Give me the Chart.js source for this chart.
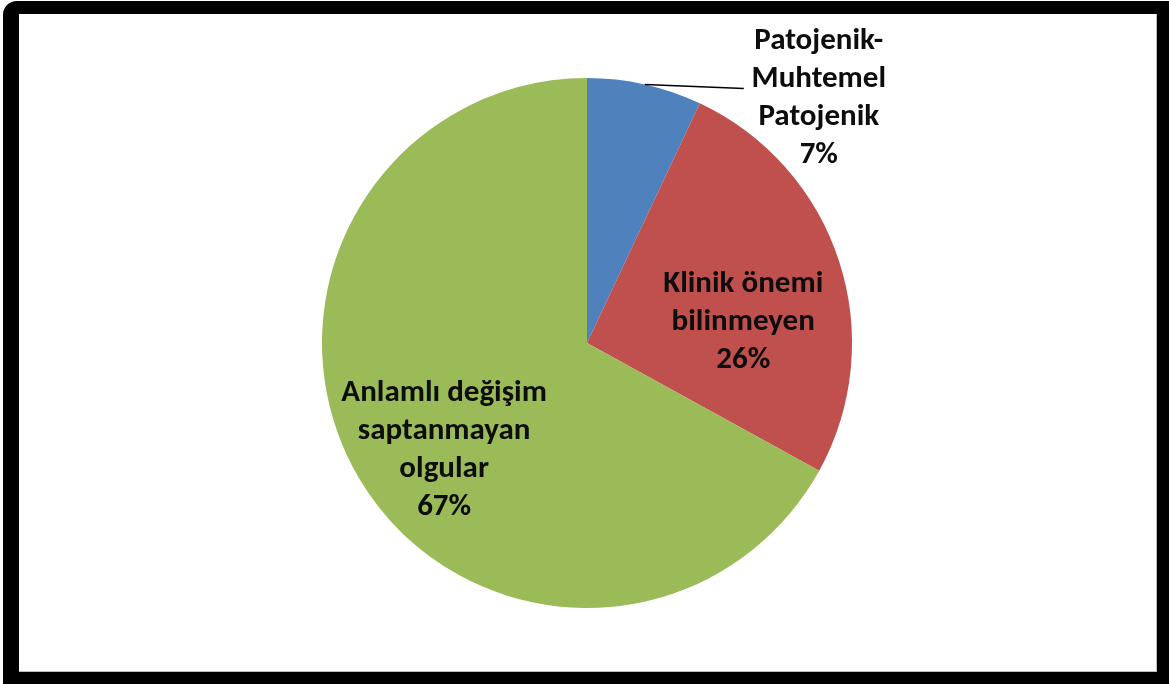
<!DOCTYPE html>
<html lang="tr">
<head>
<meta charset="UTF-8">
<title>Pie</title>
<script src="https://cdn.jsdelivr.net/npm/chart.js"></script>
<style>
    html, body { margin: 0; padding: 0; background: #fff; }
    .frame { position: absolute; left: 3px; top: 1px; width: 1166px; height: 683px; background: #000; border-radius: 14px 0 0 0; }
    .inner { position: absolute; left: 19px; top: 14px; width: 1137px; height: 657px; background: #fff; border-right: 1px solid #bbb; border-bottom: 1px solid #bbb; }
    #wrap { position: absolute; left: 0; top: 0; width: 1169px; height: 684px; }
</style>
</head>
<body>
<div class="frame"></div>
<div class="inner"></div>
<div id="wrap"><canvas id="pie"></canvas></div>
<script>
const categories = [['Patojenik-', 'Muhtemel', 'Patojenik'], ['Klinik önemi', 'bilinmeyen'], ['Anlamlı değişim', 'saptanmayan', 'olgular']];
const values = [7, 26, 67];
const colors = ['#4F81BD', '#C0504D', '#9BBB59'];

// where each label sits: radial fraction of radius, plus small nudges
const labelPlace = [
    { frac: 1.0, dx: 174, dy: 14, outside: true },
    { frac: 0.6, dx: 5, dy: 28 },
    { frac: 0.6, dx: -6, dy: 26 }
];

const pieLabels = {
    id: 'pieLabels',
    afterDatasetsDraw(chart) {
        const ctx = chart.ctx;
        const meta = chart.getDatasetMeta(0);
        const total = values.reduce((a, b) => a + b, 0);
        ctx.save();
        ctx.font = 'bold 31px Carlito, Lato, sans-serif';
        ctx.fillStyle = '#0d0d0d';
        ctx.textAlign = 'center';
        ctx.textBaseline = 'middle';
        const lh = 38;
        meta.data.forEach((arc, i) => {
            const p = arc.getProps(['x', 'y', 'startAngle', 'endAngle', 'outerRadius']);
            const mid = (p.startAngle + p.endAngle) / 2;
            const pl = labelPlace[i];
            const ax = p.x + Math.cos(mid) * p.outerRadius * pl.frac;
            const ay = p.y + Math.sin(mid) * p.outerRadius * pl.frac;
            const lines = categories[i].concat([Math.round(values[i] / total * 100) + '%']);
            const cx = ax + pl.dx;
            const cy = ay + pl.dy;
            if (pl.outside) {
                ctx.strokeStyle = '#000';
                ctx.lineWidth = 1.5;
                ctx.beginPath();
                ctx.moveTo(ax, ay);
                ctx.lineTo(cx - 75, cy - 10);
                ctx.stroke();
            }
            const top = cy - (lines.length - 1) * lh / 2;
            lines.forEach((t, k) => ctx.fillText(t, cx, top + k * lh));
        });
        ctx.restore();
    }
};

new Chart(document.getElementById('pie'), {
    type: 'pie',
    data: {
        labels: categories.map(c => c.join(' ')),
        datasets: [{
            data: values,
            backgroundColor: colors,
            borderWidth: 0
        }]
    },
    options: {
        responsive: true,
        maintainAspectRatio: false,
        animation: false,
        layout: { padding: { top: 78, bottom: 76, left: 322, right: 317 } },
        plugins: { legend: { display: false }, tooltip: { enabled: false } }
    },
    plugins: [pieLabels]
});
</script>
</body>
</html>
